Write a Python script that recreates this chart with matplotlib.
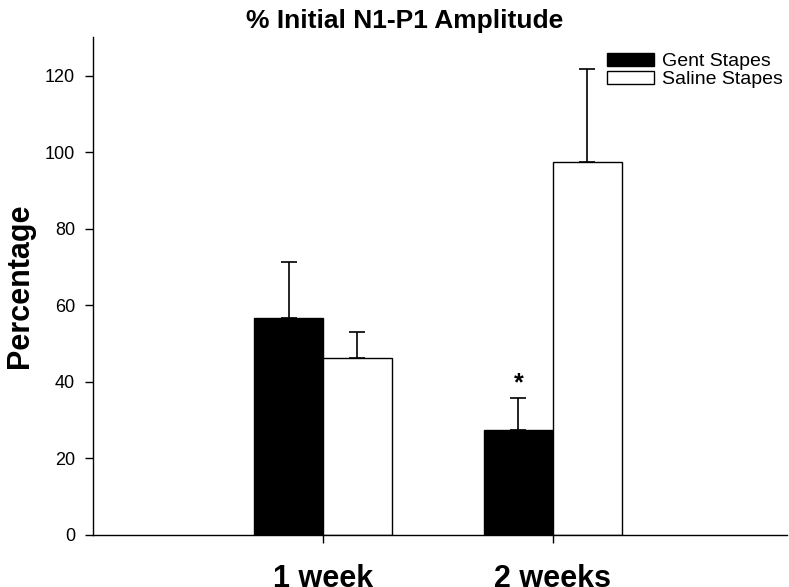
import numpy as np
import matplotlib.pyplot as plt
from matplotlib.patches import Patch

groups = ['1 week', '2 weeks']
gent = [56.6, 27.4]
gent_err = [14.6, 8.3]
saline = [46.2, 97.3]
saline_err = [6.8, 24.3]

plt.rcParams['font.family'] = ['Liberation Sans', 'DejaVu Sans']

fig = plt.figure(figsize=(7.89, 5.87), dpi=100)
ax = fig.add_axes([0.118, 0.0886, 0.88, 0.848])

x = np.array([1, 2])
w = 0.3
ax.bar(x - w / 2, gent, w, color='black', edgecolor='black', linewidth=1)
ax.bar(x + w / 2, saline, w, color='white', edgecolor='black', linewidth=1)
ax.errorbar(x - w / 2, gent, yerr=[np.zeros(2), gent_err], fmt='none',
            ecolor='black', elinewidth=1.2, capsize=5.7, capthick=1.2)
ax.errorbar(x + w / 2, saline, yerr=[np.zeros(2), saline_err], fmt='none',
            ecolor='black', elinewidth=1.2, capsize=5.7, capthick=1.2)

# significance marker
ax.text(2 - w / 2, 39.7, '*', ha='center', va='center',
        fontsize=18, fontweight='bold')

ax.set_xlim(0, 3.02)
ax.set_ylim(0, 130)
ax.set_yticks(range(0, 121, 20))
ax.set_xticks(x)
ax.set_xticklabels(groups, fontsize=22, fontweight='bold')
ax.tick_params(axis='x', length=6, width=1, pad=15)
ax.tick_params(axis='y', length=6, width=1, labelsize=13, pad=7)
for s in ['top', 'right']:
    ax.spines[s].set_visible(False)
for s in ['left', 'bottom']:
    ax.spines[s].set_linewidth(1)

ax.set_ylabel('Percentage', fontsize=22, fontweight='bold', labelpad=7)
fig.text(405 / 789, 1 - 28 / 587, '% Initial N1-P1 Amplitude', ha='center',
         va='baseline', fontsize=19, fontweight='bold')

handles = [Patch(facecolor='black', edgecolor='black', label='Gent Stapes'),
           Patch(facecolor='white', edgecolor='black', label='Saline Stapes')]
fig.legend(handles=handles, loc='upper left',
           bbox_to_anchor=(607 / 789, 1 - 53 / 587),
           frameon=False, fontsize=14, handlelength=2.4, handleheight=0.62,
           labelspacing=0.05, handletextpad=0.45, borderpad=0, borderaxespad=0)

fig.savefig('out.png', dpi=100)
